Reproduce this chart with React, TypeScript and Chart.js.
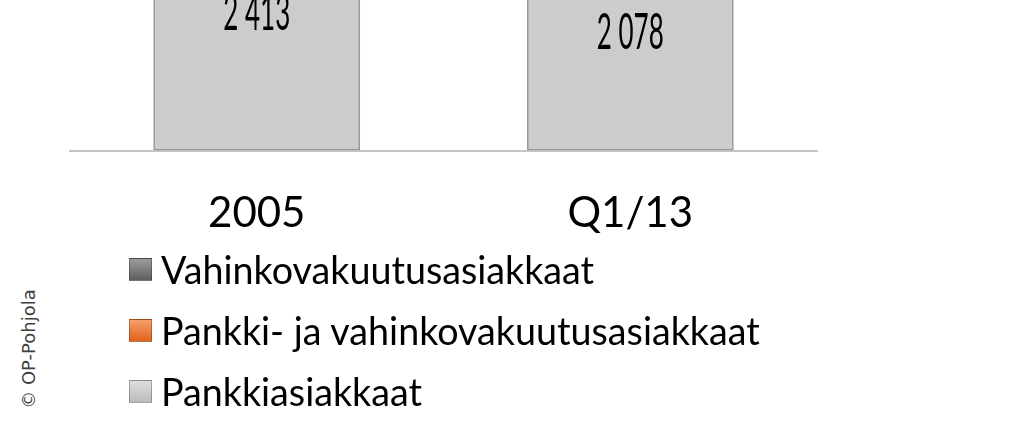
import { useEffect, useRef } from 'react'
import { Chart, registerables } from 'chart.js'

Chart.register(...registerables)

// categories and series (thousands of customers)
const periods = ['2005', 'Q1/13']
const bankCustomers = [2413, 2078]
const jointCustomers = [446, 1394]
const insuranceCustomers = [240, 205]

const seriesNames = ['Pankkiasiakkaat', 'Pankki- ja vahinkovakuutusasiakkaat', 'Vahinkovakuutusasiakkaat']
const seriesColors = ['#cccccc', '#f26b1d', '#666666']

// visible part of the value axis (the picture is cropped at the top)
const yMax = 1333

const fmt = (v: number) => String(v).replace(/\B(?=(\d{3})+(?!\d))/g, ' ')

const valueLabels = {
  id: 'valueLabels',
  afterDatasetsDraw(chart: Chart) {
    const meta = chart.getDatasetMeta(0)
    const ctx = chart.ctx
    ctx.save()
    ctx.font = '50px Lato'
    ctx.fillStyle = '#000'
    ctx.textAlign = 'center'
    ctx.textBaseline = 'middle'
    meta.data.forEach((bar, i) => {
      const { x, y } = bar.getCenterPoint()
      ctx.save()
      ctx.translate(x, y)
      ctx.scale(0.52, 1)
      ctx.fillText(fmt(bankCustomers[i]), 0, 0)
      ctx.restore()
    })
    ctx.restore()
  },
}

export default function App() {
  const ref = useRef<HTMLCanvasElement>(null)

  useEffect(() => {
    if (!ref.current) return
    const bar = { categoryPercentage: 1, barPercentage: 0.554, borderSkipped: false as const, borderWidth: 2 }
    const chart = new Chart(ref.current, {
      type: 'bar',
      data: {
        labels: periods,
        datasets: [
          { label: seriesNames[0], data: bankCustomers, backgroundColor: seriesColors[0], borderColor: '#999999', ...bar },
          { label: seriesNames[1], data: jointCustomers, backgroundColor: seriesColors[1], borderColor: '#c4561a', ...bar },
          { label: seriesNames[2], data: insuranceCustomers, backgroundColor: seriesColors[2], borderColor: '#4d4d4d', ...bar },
        ],
      },
      options: {
        animation: false,
        responsive: true,
        maintainAspectRatio: false,
        layout: { padding: { left: 70, right: 207, top: 0, bottom: 7 } },
        plugins: { legend: { display: false }, tooltip: { enabled: false } },
        scales: {
          x: {
            stacked: true,
            grid: { display: false, drawTicks: false },
            border: { display: true, color: '#c4c4c4', width: 2 },
            ticks: { font: { family: 'Lato', size: 42 }, color: '#000', padding: 38 },
          },
          y: { stacked: true, display: false, min: 0, max: yMax },
        },
      },
      plugins: [valueLabels],
    })
    return () => chart.destroy()
  }, [])

  const legendOrder = [2, 1, 0]

  return (
    <div style={{ position: 'fixed', left: 0, top: 0, width: 1024, height: 423, background: '#fff', overflow: 'hidden' }}>
      <div style={{ position: 'absolute', left: 0, top: 0, width: 1024, height: 284 }}>
        <canvas ref={ref} role="img" aria-label="Pankki- ja vahinkovakuutusasiakkaat 2005 ja Q1/13" />
      </div>
      <div style={{ position: 'absolute', left: 129, top: 239, fontFamily: 'Lato', fontSize: 37.7, color: '#000' }}>
        {legendOrder.map((i) => (
          <div key={i} style={{ display: 'flex', alignItems: 'center', height: 61 }}>
            <span
              style={{
                width: 21,
                height: 21,
                marginRight: 9,
                background: `linear-gradient(180deg, rgba(255,255,255,.35), rgba(0,0,0,.08)), ${seriesColors[i]}`,
                border: '1px solid rgba(0,0,0,.25)',
                flex: 'none',
              }}
            />
            <span>{seriesNames[i]}</span>
          </div>
        ))}
      </div>
      <div
        style={{
          position: 'absolute',
          left: 28,
          top: 349,
          transform: 'translate(-50%, -50%) rotate(-90deg)',
          fontFamily: 'DejaVu Sans',
          fontSize: 18,
          color: '#404040',
          whiteSpace: 'nowrap',
        }}
      >
        © OP-Pohjola
      </div>
    </div>
  )
}
